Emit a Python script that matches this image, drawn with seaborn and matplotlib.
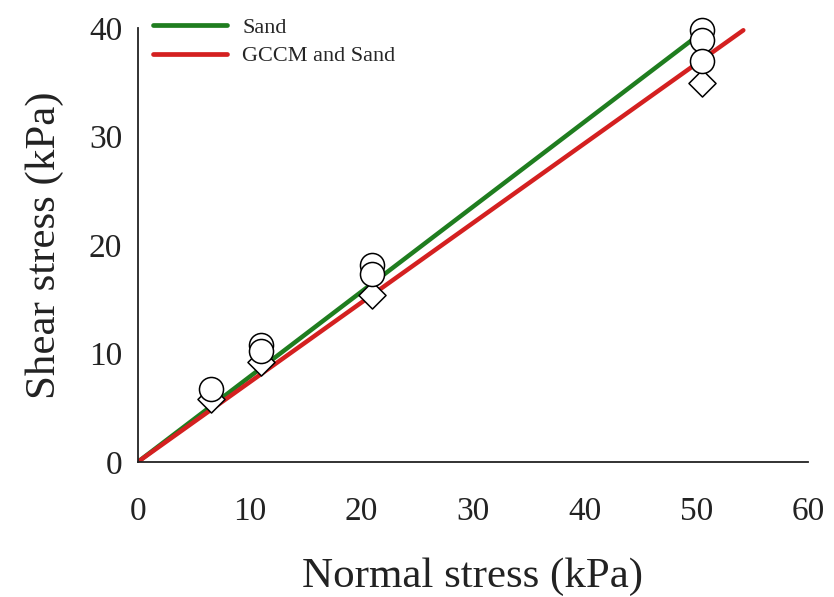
import matplotlib
matplotlib.use("Agg")
import matplotlib.pyplot as plt
import seaborn as sns
import pandas as pd

# Direct shear test results
circle_x = [6.6, 11.0, 11.0, 21.0, 21.0, 50.5, 50.5, 50.5]
circle_y = [6.7, 10.8, 10.2, 18.2, 17.3, 39.8, 38.9, 37.0]
diamond_x = [6.6, 11.0, 21.0, 50.5]
diamond_y = [5.8, 9.2, 15.4, 34.9]

# Failure envelopes
sand_fit_x = [0.0, 50.5]
sand_fit_y = [0.0, 39.6]
gccm_fit_x = [0.0, 54.2]
gccm_fit_y = [0.0, 39.8]

series_labels = ["Sand", "GCCM and Sand"]
x_ticks = [0, 10, 20, 30, 40, 50, 60]
y_ticks = [0, 10, 20, 30, 40]

sns.set_style("white")
plt.rcParams["font.family"] = ["Liberation Serif", "DejaVu Serif"]

fig = plt.figure(figsize=(8.34, 5.97), dpi=100)
ax = fig.add_axes([0.165, 0.226, 0.804, 0.727])

fits = pd.concat([
    pd.DataFrame({"x": sand_fit_x, "y": sand_fit_y, "series": series_labels[0]}),
    pd.DataFrame({"x": gccm_fit_x, "y": gccm_fit_y, "series": series_labels[1]}),
])
sns.lineplot(data=fits, x="x", y="y", hue="series",
             palette={series_labels[0]: "#1f7d1f", series_labels[1]: "#d42020"},
             linewidth=3.2, ax=ax, zorder=2, sort=False)

sns.scatterplot(x=diamond_x, y=diamond_y, marker="D", s=190, color="white",
                edgecolor="black", linewidth=1.1, ax=ax, zorder=3, legend=False,
                clip_on=False)
sns.scatterplot(x=circle_x, y=circle_y, marker="o", s=300, color="white",
                edgecolor="black", linewidth=1.1, ax=ax, zorder=4, legend=False,
                clip_on=False)

ax.set_xlim(0, 60)
ax.set_ylim(0, 40)
ax.set_xticks(x_ticks)
ax.set_yticks(y_ticks)
ax.tick_params(axis="both", direction="out", length=5, width=1.2,
               labelsize=24, colors="#222222", pad=6)
ax.tick_params(axis="x", pad=20)
for side in ["top", "right"]:
    ax.spines[side].set_visible(False)
for side in ["left", "bottom"]:
    ax.spines[side].set_color("#222222")
    ax.spines[side].set_linewidth(1.3)

ax.set_xlabel("Normal stress (kPa)", fontsize=31, color="#222222", labelpad=22)
ax.set_ylabel("Shear stress (kPa)", fontsize=31, color="#222222", labelpad=18)

leg = ax.legend(loc="upper left", bbox_to_anchor=(0.01, 1.045), frameon=False,
                fontsize=16, handlelength=3.3, handletextpad=0.7,
                labelspacing=0.35, borderaxespad=0)
for line in leg.get_lines():
    line.set_linewidth(3.4)

fig.savefig("out.png", dpi=100, facecolor="white")
